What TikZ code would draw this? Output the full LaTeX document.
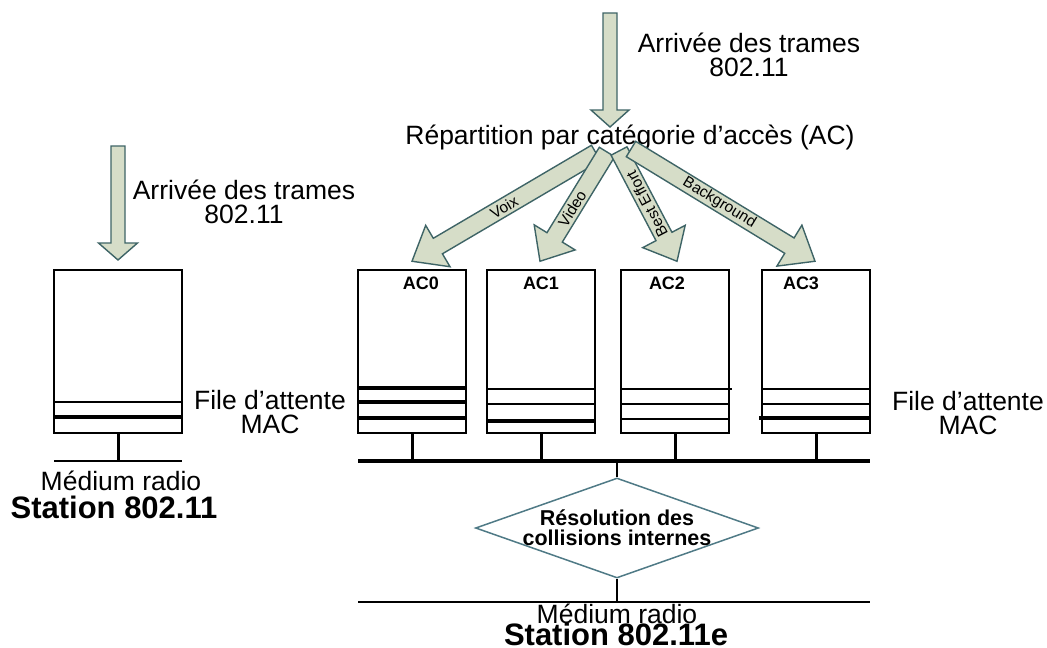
\documentclass[tikz,border=0pt]{standalone}
\usepackage{fontspec}
\setmainfont{Liberation Sans}
\usetikzlibrary{calc,shapes.geometric}

\definecolor{arrowfill}{HTML}{D6DDC8}
\definecolor{arrowline}{HTML}{3E6466}
\definecolor{diamondline}{HTML}{4F7A86}

\newcommand\txtfont{\fontsize{26.5}{24}\selectfont}
\newcommand\stfont{\fontsize{31}{31}\selectfont\bfseries}
\newcommand\acfont{\fontsize{18}{18}\selectfont\bfseries}
\newcommand\resfont{\fontsize{21.5}{20}\selectfont\bfseries}
\newcommand\lblfont{\fontsize{15.5}{15.5}\selectfont}

% block arrow: tail, tip, shaft half width, head half width, head length
\newcommand\blockarrow[5]{%
  \coordinate (ba-b) at ($(#2)!#5!(#1)$);
  \draw[blockarr]
    ($(#1)!#3!90:(#2)$) -- ($(ba-b)!#3!90:(#2)$) -- ($(ba-b)!#4!90:(#2)$)
    -- (#2) --
    ($(ba-b)!#4!-90:(#2)$) -- ($(ba-b)!#3!-90:(#2)$) -- ($(#1)!#3!-90:(#2)$) -- cycle;
}

\tikzset{
  blockarr/.style={draw=arrowline, fill=arrowfill, line width=1.4pt, line join=miter},
  qbox/.style={draw, line width=1.5pt, minimum width=108pt, minimum height=163pt, inner sep=0pt},
  thinbar/.style={line width=2.4pt},
  thickbar/.style={line width=3.8pt},
  stem/.style={line width=3pt},
  bus/.style={line width=4pt},
  ground/.style={line width=2.6pt},
  lbl/.style={inner sep=0pt, font=\lblfont},
}

\begin{document}
\begin{tikzpicture}[x=1pt, y=-1pt]
\useasboundingbox (0,0) rectangle (1047,648);

% ---------- legacy 802.11 station ----------
\coordinate (inL-t) at (118,146);
\coordinate (inL-h) at (118,260);
\blockarrow{inL-t}{inL-h}{7pt}{19.5pt}{17pt}
\node[font=\txtfont, align=center, inner sep=0pt] (arrL) at (244,202) {Arrivée des trames\\802.11};

\node[qbox, minimum width=128pt] (qL) at (118,351.5) {};
\draw[thinbar]  ([yshift=32pt]qL.south west) -- ([yshift=32pt]qL.south east);
\draw[thickbar] ([yshift=17pt]qL.south west) -- ([yshift=17pt]qL.south east);

\coordinate (lradL) at (54,461);
\coordinate (lradR) at (182,461);
\draw[stem] (qL.south) -- (qL.south |- lradL);
\draw[ground] (lradL) -- (lradR);
\node[font=\txtfont, inner sep=0pt] (medL) at (121,481) {Médium radio};
\node[font=\stfont, inner sep=0pt] (stL) at (114,507) {Station 802.11};

\node[font=\txtfont, align=center, inner sep=0pt] (fileL) at (270,412) {File d’attente\\MAC};

% ---------- 802.11e station ----------
\coordinate (inE-t) at (610,13);
\coordinate (inE-h) at (610,127);
\blockarrow{inE-t}{inE-h}{7pt}{19pt}{17pt}
\node[font=\txtfont, align=center, inner sep=0pt] (arrE) at (749,55) {Arrivée des trames\\802.11};

\node[font=\txtfont, inner sep=0pt] (rep) at (630,137) {Répartition par catégorie d’accès (AC)};

% access category queues
\node[qbox] (q0) at (412,351.5) {};
\node[qbox] (q1) at (541,351.5) {};
\node[qbox] (q2) at (675,351.5) {};
\node[qbox] (q3) at (816,351.5) {};

\node[font=\acfont, inner sep=0pt] (ac0) at (421,283) {AC0};
\node[font=\acfont, inner sep=0pt] (ac1) at (541,283) {AC1};
\node[font=\acfont, inner sep=0pt] (ac2) at (667,283) {AC2};
\node[font=\acfont, inner sep=0pt] (ac3) at (801,283) {AC3};

% queued frames
\draw[thickbar] ([yshift=46pt]q0.south west) -- ([yshift=46pt]q0.south east);
\draw[thickbar] ([yshift=32pt]q0.south west) -- ([yshift=32pt]q0.south east);
\draw[thickbar] ([yshift=16pt]q0.south west) -- ([yshift=16pt]q0.south east);

\draw[thinbar]  ([yshift=45pt]q1.south west) -- ([yshift=45pt]q1.south east);
\draw[thinbar]  ([yshift=30pt]q1.south west) -- ([yshift=30pt]q1.south east);
\draw[thickbar] ([yshift=13pt]q1.south west) -- ([yshift=13pt]q1.south east);

\draw[thinbar]  ([yshift=45pt]q2.south west) -- ([yshift=45pt,xshift=2pt]q2.south east);
\draw[thinbar]  ([yshift=30pt]q2.south west) -- ([yshift=30pt]q2.south east);
\draw[thinbar]  ([yshift=15pt]q2.south west) -- ([yshift=15pt]q2.south east);

\draw[thinbar]  ([yshift=45pt]q3.south west) -- ([yshift=45pt]q3.south east);
\draw[thinbar]  ([yshift=30pt]q3.south west) -- ([yshift=30pt]q3.south east);
\draw[thickbar] ([yshift=16pt,xshift=-2pt]q3.south west) -- ([yshift=16pt]q3.south east);

% dispatch arrows from the classifier to the queues
\coordinate (voix-t) at (596,153);
\coordinate (video-t) at (607,152);
\coordinate (be-t) at (619,151);
\coordinate (bg-t) at (631,149);
\coordinate (voix-h) at ([yshift=8pt]q0.north);
\coordinate (video-h) at ([yshift=8pt,xshift=-1pt]q1.north);
\coordinate (be-h) at ([yshift=8pt,xshift=2pt]q2.north);
\coordinate (bg-h) at ([yshift=8pt,xshift=-1pt]q3.north);

\blockarrow{voix-t}{voix-h}{9pt}{24pt}{30pt}
\blockarrow{video-t}{video-h}{9pt}{24pt}{28pt}
\blockarrow{be-t}{be-h}{9pt}{24pt}{28pt}
\blockarrow{bg-t}{bg-h}{9pt}{24pt}{30pt}

\node[lbl, rotate=30.9] (lvoix) at ($(voix-t)!0.5!(voix-h)$) {Voix};
\node[lbl, rotate=58.3] (lvideo) at ($(video-t)!0.52!(video-h)$) {Video};
\node[lbl, rotate=117.6] (lbe) at ($(be-t)!0.48!(be-h)$) {Best Effort};
\node[lbl, rotate=-31.4] (lbg) at ($(bg-t)!0.48!(bg-h)$) {Background};

% internal bus
\coordinate (busL) at (358,461);
\coordinate (busR) at (870,461);
\foreach \q in {q0,q1,q2,q3}
  \draw[stem] (\q.south) -- (\q.south |- busL);
\draw[bus] (busL) -- (busR);

% internal collision resolution
\node[diamond, draw=diamondline, line width=1.5pt, minimum width=283pt, minimum height=100pt, inner sep=0pt] (res) at (617,528) {};
\node[font=\resfont, align=center, inner sep=0pt] (restxt) at (res.center) {Résolution des\\collisions internes};
\draw[line width=2pt] (res.north) -- (res.north |- busL);

\coordinate (radL) at (358,602);
\coordinate (radR) at (870,602);
\draw[line width=2pt] (res.south) -- (res.south |- radL);
\draw[ground] (radL) -- (radR);
\node[font=\txtfont, inner sep=0pt] (medE) at (617,614) {Médium radio};
\node[font=\stfont, inner sep=0pt] (stE) at (616,634) {Station 802.11e};

\node[font=\txtfont, align=center, inner sep=0pt] (fileR) at (968,413) {File d’attente\\MAC};
\end{tikzpicture}
\end{document}
